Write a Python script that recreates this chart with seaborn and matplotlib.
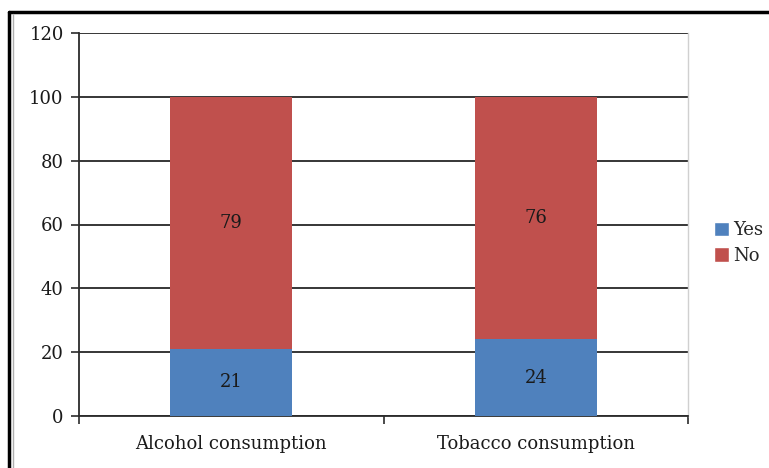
import matplotlib
matplotlib.use("Agg")
import matplotlib.pyplot as plt
import seaborn as sns
import pandas as pd
from matplotlib.patches import Patch
from matplotlib.lines import Line2D

categories = ["Alcohol consumption", "Tobacco consumption"]
yes_vals = [21, 24]
no_vals = [79, 76]
series_names = ["Yes", "No"]
y_ticks = [0, 20, 40, 60, 80, 100, 120]

BLUE = "#4F81BD"
RED = "#C0504D"
FONT = "DejaVu Serif"
FS = 13

sns.set_style("white")
plt.rcParams["font.family"] = [FONT, "Liberation Serif"]

fig = plt.figure(figsize=(7.69, 4.68), dpi=100)
ax = fig.add_axes([79 / 769, 1 - 416 / 468, (688 - 79) / 769, (416 - 33) / 468])

df = pd.DataFrame({"cat": categories, "yes": yes_vals, "no": no_vals})
df["total"] = df["yes"] + df["no"]

sns.barplot(data=df, x="cat", y="total", color=RED, width=0.4, ax=ax,
            saturation=1, zorder=3, linewidth=0)
sns.barplot(data=df, x="cat", y="yes", color=BLUE, width=0.4, ax=ax,
            saturation=1, zorder=3, linewidth=0)

# Labels centered in segments
for i, (y, n) in enumerate(zip(yes_vals, no_vals)):
    ax.text(i, y / 2, str(y), ha="center", va="center", fontsize=FS, color="#1a1a1a", zorder=5)
    ax.text(i, y + n / 2, str(n), ha="center", va="center", fontsize=FS, color="#1a1a1a", zorder=5)

ax.set_xlim(-0.5, 1.5)
ax.set_ylim(0, 120)
ax.set_yticks(y_ticks)
ax.set_yticklabels([str(t) for t in y_ticks], fontsize=FS, color="#1a1a1a")
ax.yaxis.grid(True, color="#262626", linewidth=1.3, zorder=0)
ax.set_axisbelow(True)
ax.set_xlabel("")
ax.set_ylabel("")

# x ticks at category boundaries, labels at centers
ax.set_xticks([-0.5, 0.5, 1.5])
ax.set_xticklabels(["", "", ""])
ax.set_xticks([0, 1], minor=True)
ax.set_xticklabels(categories, minor=True, fontsize=FS, color="#1a1a1a")
ax.tick_params(axis="x", which="major", direction="out", length=6, width=1.2, color="#2b2b2b", bottom=True)
ax.tick_params(axis="x", which="minor", length=0, pad=14, bottom=True)
ax.tick_params(axis="y", direction="out", length=6, width=1.2, color="#2b2b2b", left=True, pad=5)

for side in ["left", "bottom"]:
    ax.spines[side].set_color("#2b2b2b")
    ax.spines[side].set_linewidth(1.3)
ax.spines["top"].set_visible(False)
ax.spines["right"].set_color("#d0d0d0")
ax.spines["right"].set_linewidth(1.0)

handles = [Patch(facecolor=BLUE, label=series_names[0]), Patch(facecolor=RED, label=series_names[1])]
fig.legend(handles=handles, loc="center left", bbox_to_anchor=(705 / 769, 1 - 243 / 468),
           frameon=False, fontsize=FS, handlelength=0.85, handleheight=0.85,
           handletextpad=0.2, labelspacing=0.4, borderpad=0)

# Outer frame lines
fig.add_artist(Line2D([9 / 769, 9 / 769], [0, 1 - 12 / 468], transform=fig.transFigure, color="black", linewidth=2.5))
fig.add_artist(Line2D([9 / 769, 1], [1 - 12 / 468, 1 - 12 / 468], transform=fig.transFigure, color="black", linewidth=2.5))
fig.add_artist(Line2D([13 / 769, 13 / 769], [0, 1 - 14 / 468], transform=fig.transFigure, color="#b0b0b0", linewidth=1.0))

fig.savefig("out.png", dpi=100)
